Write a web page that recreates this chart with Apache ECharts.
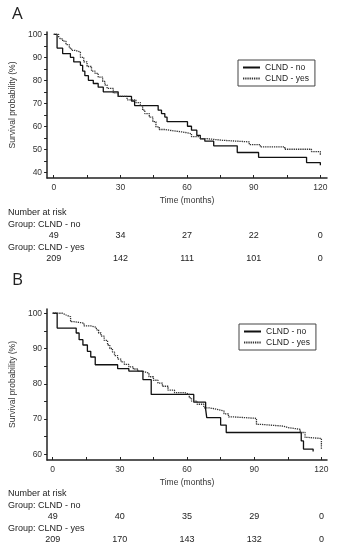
<!DOCTYPE html>
<html><head><meta charset="utf-8">
<script src="https://cdn.jsdelivr.net/npm/echarts@6/dist/echarts.min.js"></script>
<style>html,body{margin:0;padding:0;background:#fff}#c{width:337px;height:550px}</style>
</head><body><div id="c"></div>
<script>
// ---- data ----
const seriesNames = ['CLND - no', 'CLND - yes'];
const xTickLabels = [0, 30, 60, 90, 120];
const xMinorTicks = [0, 15, 30, 45, 60, 75, 90, 105, 120];
const yTicksA = [40, 50, 60, 70, 80, 90, 100];
const yMinorA = [40, 45, 50, 55, 60, 65, 70, 75, 80, 85, 90, 95, 100];
const yTicksB = [60, 70, 80, 90, 100];
const yMinorB = [60, 65, 70, 75, 80, 85, 90, 95, 100];

// Panel A: survival steps [month, %]
const aNo = [[0,100],[1.5,94],[4,91.6],[7.5,90],[9,88],[12,86.5],[13,84],[14,82],[15.6,80],[17.8,78.6],[20,77],[22.3,75],[29,73],[35,71],[36.4,69],[47,67],[48.5,65.5],[50,64],[51,62],[60.2,60],[62,58.3],[64.4,56],[66,54.5],[68,53.5],[72,51.5],[82.6,48.6],[92.2,46.5],[113.8,44.2],[120,44.2],[120,43]];
const aYes = [[0,100],[2.2,99],[3,98],[4,97],[5.5,95.5],[7,94],[8,93],[9.6,92.3],[12,90],[13.5,88],[15,86],[17,84],[18.6,83],[20,81.4],[22,79.5],[23,78],[24,76.5],[26.8,74.5],[29,73],[33,71.5],[37,70.3],[39,69],[40,67],[41,65.5],[43,64],[44.6,62],[46,59.7],[47.5,58.6],[50,58],[54,57.5],[58,56.8],[62,55.5],[66,54.6],[69,53.9],[76,53.2],[88,52],[93,51],[104,50],[116,49],[120,49],[120,47.4]];
// Panel B
const bNo = [[0,100],[2,95.8],[10.5,94.4],[11.8,92.5],[13.5,91],[15.5,89.2],[17,87.6],[19,85.4],[29,84.3],[34,83.6],[40.3,81.2],[44,77],[63,74.8],[68.3,72.8],[68.8,70.4],[75,68.3],[77.5,66.2],[111,63.8],[112,61.5],[116.3,60.8]];
const bYes = [[0,100],[4.4,99.5],[6,99],[8,97.6],[9.5,97.2],[14,96.4],[17,96],[19.5,95.3],[20.5,94.4],[21.6,93.5],[23,92.3],[24.5,91],[25.5,90],[26.7,89],[27.6,88],[29,87],[30.5,86.2],[32,85.5],[34,84.8],[36,84.2],[38,83.5],[40.5,83],[43,82],[45,81],[47,80.2],[49,79.3],[51.5,78.2],[54.4,77.5],[59,77],[61,76],[62,75.1],[64.5,74.2],[67.5,73.2],[70,72.8],[73,72.3],[76.5,71.5],[78.5,70.6],[81,70.2],[91,68.5],[93,68],[103,67.6],[105,67.1],[110.5,66.2],[112.7,64.8],[114,64.5],[120,64.5],[120,61.5]];

// numbers at risk
const riskANo = [49, 34, 27, 22, 0];
const riskAYes = [209, 142, 111, 101, 0];
const riskBNo = [49, 40, 35, 29, 0];
const riskBYes = [209, 170, 143, 132, 0];

// ---- chart ----
const FONT = 'Liberation Sans, Arial, sans-serif';
const chart = echarts.init(document.getElementById('c'), null, {renderer: 'canvas'});
const axisColor = '#222';
function xAxis(gi, min, max) {
  return {
    type: 'value', gridIndex: gi, min: min, max: max,
    axisLine: {onZero: false, lineStyle: {color: axisColor, width: 1.5}},
    splitLine: {show: false},
    axisTick: {customValues: xMinorTicks, inside: true, length: 3, lineStyle: {color: axisColor}},
    axisLabel: {customValues: xTickLabels, fontSize: 8.5, color: '#333', margin: 5, fontFamily: FONT},
    name: 'Time (months)', nameLocation: 'middle', nameGap: 18,
    nameTextStyle: {fontSize: 8.5, color: '#333', fontFamily: FONT}
  };
}
function yAxis(gi, min, max, labels, minor) {
  return {
    type: 'value', gridIndex: gi, min: min, max: max,
    axisLine: {show: true, onZero: false, lineStyle: {color: axisColor, width: 1.5}},
    splitLine: {show: false},
    axisTick: {show: true, customValues: minor, length: 3, lineStyle: {color: axisColor}},
    axisLabel: {customValues: labels, fontSize: 8.5, color: '#333', margin: 5, fontFamily: FONT},
    name: 'Survival probability (%)', nameLocation: 'middle', nameGap: 28,
    nameTextStyle: {fontSize: 8.5, color: '#333', fontFamily: FONT}
  };
}
function km(name, data, gi, dotted) {
  const col = dotted ? '#333' : '#111';
  return {
    name: name, type: 'line', step: 'end', xAxisIndex: gi, yAxisIndex: gi,
    data: data, symbol: 'none', silent: true, animation: false,
    color: col, itemStyle: {color: col},
    lineStyle: dotted ? {color: col, width: 1.3, type: [1.3, 0.9]} : {color: col, width: 1.3}
  };
}
function legend(left, top) {
  return {
    left: left, top: top, orient: 'vertical', data: seriesNames,
    borderColor: '#444', borderWidth: 1, padding: [3, 6, 3, 4], itemGap: 2,
    itemWidth: 17, itemHeight: 8, selectedMode: false,
    itemStyle: {opacity: 0},
    textStyle: {fontSize: 8.5, color: '#222', fontFamily: FONT}
  };
}
chart.setOption({
  animation: false,
  backgroundColor: '#fff',
  color: ['#111', '#333'],
  grid: [
    {left: 45, top: 32, width: 282, height: 146},
    {left: 44, top: 309, width: 283, height: 151}
  ],
  xAxis: [xAxis(0, -3, 123), xAxis(1, -2.5, 122.5)],
  yAxis: [yAxis(0, 37.5, 101, yTicksA, yMinorA), yAxis(1, 58.4, 101.2, yTicksB, yMinorB)],
  legend: [legend(238, 60), legend(239, 324)],
  series: [
    km(seriesNames[0], aNo, 0, false), km(seriesNames[1], aYes, 0, true),
    km(seriesNames[0], bNo, 1, false), km(seriesNames[1], bYes, 1, true)
  ]
});

function txt(x, y, s, opts) {
  return Object.assign({type: 'text', x: x, y: y, silent: true,
    style: Object.assign({text: String(s), fontSize: 9, fill: '#222', fontFamily: FONT, verticalAlign: 'middle', align: 'left'}, opts || {})});
}
const g = [];
function riskTable(gi, y0, rowNo, rowYes) {
  g.push(txt(8, y0, 'Number at risk'));
  g.push(txt(8, y0 + 11.5, 'Group: CLND - no'));
  g.push(txt(8, y0 + 34.5, 'Group: CLND - yes'));
  xTickLabels.forEach((t, i) => {
    const px = chart.convertToPixel({xAxisIndex: gi}, t);
    g.push(txt(px, y0 + 23, rowNo[i], {align: 'center'}));
    g.push(txt(px, y0 + 45.5, rowYes[i], {align: 'center'}));
  });
}
g.push(txt(12, 14, 'A', {fontSize: 17, fontFamily: 'Open Sans, sans-serif'}));
g.push(txt(12, 280, 'B', {fontSize: 17, fontFamily: 'Open Sans, sans-serif'}));
riskTable(0, 213, riskANo, riskAYes);
riskTable(1, 494, riskBNo, riskBYes);
chart.setOption({graphic: g});
</script></body></html>
